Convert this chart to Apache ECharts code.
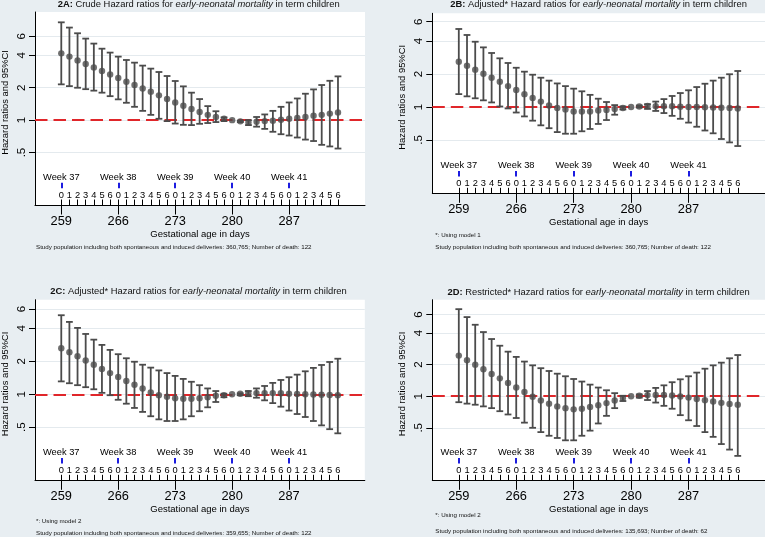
<!DOCTYPE html>
<html>
<head>
<meta charset="utf-8">
<script src="https://cdn.jsdelivr.net/npm/echarts@6/dist/echarts.min.js"></script>
<style>
html,body{margin:0;padding:0;background:#e8eef2;}
#chart{width:765px;height:537px;}
</style>
</head>
<body>
<div id="chart"></div>
<script>
// ---------- data ----------
const days = [259,260,261,262,263,264,265,266,267,268,269,270,271,272,273,274,275,276,277,278,279,280,281,282,283,284,285,286,287,288,289,290,291,292,293];
const dayDigits = ['0','1','2','3','4','5','6','0','1','2','3','4','5','6','0','1','2','3','4','5','6','0','1','2','3','4','5','6','0','1','2','3','4','5','6'];
const weekStarts = [259,266,273,280,287];
const weekNames = ['Week 37','Week 38','Week 39','Week 40','Week 41'];
const yTicks = [0.5,1,2,4,6];
const yTickLabels = ['.5','1','2','4','6'];

const hrA = [4.17,3.89,3.59,3.32,3.09,2.86,2.66,2.46,2.27,2.12,1.97,1.84,1.70,1.57,1.46,1.36,1.27,1.19,1.12,1.07,1.03,1.00,0.975,0.95,0.965,0.98,0.99,1.01,1.03,1.05,1.07,1.10,1.12,1.15,1.18];
const loA = [2.15,2.07,2.00,1.94,1.88,1.80,1.67,1.56,1.45,1.33,1.22,1.12,1.03,0.98,0.93,0.905,0.90,0.925,0.94,0.96,0.98,1.00,0.96,0.90,0.87,0.83,0.78,0.74,0.72,0.69,0.66,0.64,0.59,0.57,0.545];
const hiA = [8.1,7.24,6.41,5.72,5.14,4.61,4.24,3.89,3.62,3.42,3.21,3.01,2.80,2.57,2.31,2.06,1.80,1.57,1.35,1.21,1.06,1.00,0.99,1.00,1.07,1.13,1.22,1.33,1.46,1.59,1.76,1.93,2.12,2.32,2.55];

const hrB = [2.59,2.38,2.19,2.01,1.85,1.70,1.55,1.43,1.31,1.21,1.12,1.03,0.98,0.95,0.91,0.91,0.91,0.93,0.94,0.96,0.98,1.00,1.01,1.02,1.015,1.015,1.015,1.005,1.00,1.00,0.995,0.99,0.985,0.98,0.97];
const loB = [1.31,1.25,1.20,1.15,1.10,1.01,0.97,0.89,0.82,0.75,0.68,0.64,0.59,0.57,0.57,0.60,0.63,0.70,0.76,0.85,0.95,1.00,0.99,0.96,0.92,0.88,0.83,0.78,0.72,0.66,0.61,0.575,0.51,0.475,0.44];
const hiB = [5.15,4.54,3.94,3.50,3.11,2.78,2.52,2.28,2.10,1.97,1.85,1.74,1.64,1.55,1.47,1.39,1.29,1.19,1.11,1.04,1.01,1.00,1.03,1.06,1.12,1.18,1.26,1.34,1.42,1.52,1.63,1.74,1.85,1.99,2.13];

const hrC = [2.63,2.42,2.22,2.03,1.86,1.70,1.56,1.44,1.32,1.22,1.13,1.04,0.98,0.95,0.92,0.91,0.91,0.92,0.94,0.97,0.98,1.00,1.01,1.02,1.025,1.025,1.025,1.02,1.01,1.005,1.00,0.995,0.99,0.985,0.98];
const loC = [1.31,1.26,1.21,1.16,1.11,1.03,0.98,0.89,0.82,0.75,0.69,0.63,0.59,0.57,0.57,0.59,0.63,0.70,0.76,0.85,0.94,1.00,0.98,0.96,0.93,0.88,0.83,0.77,0.71,0.66,0.62,0.57,0.52,0.48,0.44];
const hiC = [5.26,4.57,4.03,3.55,3.15,2.82,2.54,2.32,2.13,1.98,1.86,1.75,1.65,1.56,1.47,1.38,1.30,1.21,1.13,1.07,1.01,1.00,1.02,1.07,1.13,1.19,1.27,1.35,1.43,1.51,1.62,1.74,1.85,1.97,2.11];

const hrD = [2.44,2.20,2.00,1.81,1.63,1.48,1.34,1.21,1.10,0.99,0.91,0.85,0.80,0.77,0.75,0.76,0.79,0.82,0.86,0.91,0.96,1.00,1.01,1.025,1.03,1.03,1.015,0.995,0.97,0.94,0.915,0.89,0.865,0.845,0.83];
const loD = [0.877,0.85,0.83,0.80,0.77,0.72,0.67,0.62,0.56,0.50,0.455,0.42,0.40,0.38,0.38,0.42,0.47,0.55,0.65,0.77,0.90,1.00,0.97,0.92,0.87,0.81,0.76,0.66,0.59,0.52,0.455,0.41,0.35,0.31,0.27];
const hiD = [6.76,5.68,4.80,4.09,3.51,3.03,2.66,2.37,2.14,1.97,1.85,1.74,1.64,1.55,1.46,1.38,1.29,1.21,1.14,1.07,1.01,1.00,1.04,1.12,1.20,1.27,1.36,1.45,1.55,1.68,1.83,1.97,2.09,2.30,2.47];

const titleLeads = ['2A:','2B:','2C:','2D:'];
const titleMains = ['Crude Hazard ratios for','Adjusted* Hazard ratios for','Adjusted* Hazard ratios for','Restricted* Hazard ratios for'];
const titleItalic = 'early-neonatal mortality';
const titleTail = 'in term children';
const notesA = ['Study population including both spontaneous and induced deliveries: 360,765; Number of death: 122'];
const notesB = ['*: Using model 1','Study population including both spontaneous and induced deliveries: 360,765; Number of death: 122'];
const notesC = ['*: Using model 2','Study population including both spontaneous and induced deliveries: 359,655; Number of death: 122'];
const notesD = ['*: Using model 2','Study population including both spontaneous and induced deliveries: 135,693; Number of death: 62'];
const xAxisTitle = 'Gestational age in days';
const yAxisTitle = 'Hazard ratios and 95%CI';

// ---------- layout ----------
const FONT = '"Liberation Sans", Arial, Helvetica, sans-serif';
const X_MIN = 255.77, X_MAX = 296.32;
const panels = [
  {hr:hrA, lo:loA, hi:hiA, notes:notesA, grid:{left:32.5, top:12, width:332.5, height:193}, yMin:0.163, yMax:10.1, titleX:198.7, titleY:4, noteX:36, noteY:[247]},
  {hr:hrB, lo:loB, hi:hiB, notes:notesB, grid:{left:432.3, top:13.3, width:332.8, height:180}, yMin:0.163, yMax:7.16, titleX:598.6, titleY:4, noteX:435.3, noteY:[235,247.3]},
  {hr:hrC, lo:loC, hi:hiC, notes:notesC, grid:{left:32.3, top:299.7, width:332.5, height:180.6}, yMin:0.164, yMax:7.29, titleX:198.5, titleY:291.5, noteX:36, noteY:[521.3,533.7]},
  {hr:hrD, lo:loD, hi:hiD, notes:notesD, grid:{left:432.3, top:299.7, width:332.8, height:180.6}, yMin:0.158, yMax:8.32, titleX:598.6, titleY:292, noteX:435.3, noteY:[515.3,531.3]}
];

const MARK = '#4b4b4b';
const grids = [], xAxes = [], yAxes = [], series = [], titles = [];

function yLabel(v){
  for (let k = 0; k < yTicks.length; k++) if (Math.abs(v - yTicks[k]) < 1e-6) return yTickLabels[k];
  return '';
}
function dayLabel(v){
  const k = days.indexOf(Math.round(v));
  return k >= 0 ? dayDigits[k] : '';
}
function weekLabel(v){
  const k = weekStarts.indexOf(Math.round(v));
  return k >= 0 ? weekNames[k] : '';
}

panels.forEach((p, g) => {
  grids.push(Object.assign({show:true, backgroundColor:'#ffffff', borderWidth:0, containLabel:false}, p.grid));
  // main x axis
  xAxes.push({
    type:'value', gridIndex:g, min:X_MIN, max:X_MAX, position:'bottom',
    axisLine:{show:true, onZero:false, lineStyle:{color:'#000', width:1}},
    axisTick:{show:true, customValues:weekStarts, length:9.5, lineStyle:{color:'#000', width:1}},
    axisLabel:{customValues:weekStarts, margin:9.5, fontSize:12.8, color:'#000', fontFamily:FONT},
    splitLine:{show:false},
    name:xAxisTitle, nameLocation:'middle', nameGap:24.5,
    nameTextStyle:{fontSize:9.5, color:'#000', fontFamily:FONT}
  });
  // day-of-week axis (inside)
  xAxes.push({
    type:'value', gridIndex:g, min:X_MIN, max:X_MAX, position:'bottom',
    axisLine:{show:false, onZero:false},
    axisTick:{show:true, inside:true, customValues:days, length:5.5, lineStyle:{color:'#000', width:1}},
    axisLabel:{inside:true, customValues:days, margin:5, fontSize:9.3, color:'#000', fontFamily:FONT, formatter:dayLabel},
    splitLine:{show:false}
  });
  // week axis (inside, raised)
  xAxes.push({
    type:'value', gridIndex:g, min:X_MIN, max:X_MAX, position:'bottom', offset:-16.7,
    axisLine:{show:false, onZero:false},
    axisTick:{show:true, inside:true, customValues:weekStarts, length:5.6, lineStyle:{color:'#1c1ce0', width:2}},
    axisLabel:{inside:true, customValues:weekStarts, margin:6.3, fontSize:9.3, color:'#000', fontFamily:FONT, formatter:weekLabel},
    splitLine:{show:false}
  });
  yAxes.push({
    type:'log', logBase:10, gridIndex:g, min:p.yMin, max:p.yMax,
    axisLine:{show:true, onZero:false, lineStyle:{color:'#000', width:1}},
    axisTick:{show:true, customValues:yTicks, length:6, lineStyle:{color:'#000', width:1}},
    axisLabel:{customValues:yTicks, rotate:90, margin:7.5, fontSize:11.5, color:'#000', fontFamily:FONT, formatter:yLabel},
    splitLine:{show:true, lineStyle:{color:'#e4eaee', width:1}},
    minorTick:{show:false}, minorSplitLine:{show:false},
    name:yAxisTitle, nameLocation:'middle', nameGap:25,
    nameTextStyle:{fontSize:9.4, color:'#000', fontFamily:FONT, padding:[0,0,0,12]}
  });
  const xi = g * 3;
  // reference line at HR = 1
  series.push({
    type:'line', xAxisIndex:xi, yAxisIndex:g, data:[], silent:true, z:1,
    markLine:{silent:true, symbol:'none', z:1, label:{show:false},
      lineStyle:{color:'#e0262a', width:2, type:[12.5,6]},
      data:[{yAxis:1}]}
  });
  // confidence intervals
  series.push({
    type:'custom', xAxisIndex:xi, yAxisIndex:g, z:3, silent:true,
    encode:{x:0, y:[1,2]},
    data: days.map((d, i) => [d, p.lo[i], p.hi[i]]),
    renderItem: function(params, api){
      const x = api.value(0), lo = api.value(1), hi = api.value(2);
      if (lo === hi) return {type:'group', children:[]};
      const a = api.coord([x, lo]), b = api.coord([x, hi]);
      const hw = 3.4;
      const st = {stroke:MARK, lineWidth:1.8, fill:null};
      return {type:'group', children:[
        {type:'line', shape:{x1:a[0], y1:a[1], x2:b[0], y2:b[1]}, style:st},
        {type:'line', shape:{x1:a[0]-hw, y1:a[1], x2:a[0]+hw, y2:a[1]}, style:st},
        {type:'line', shape:{x1:b[0]-hw, y1:b[1], x2:b[0]+hw, y2:b[1]}, style:st}
      ]};
    }
  });
  // point estimates
  series.push({
    type:'scatter', xAxisIndex:xi, yAxisIndex:g, z:4, silent:true,
    symbol:'circle', symbolSize:6.4, itemStyle:{color:MARK},
    data: days.map((d, i) => [d, p.hr[i]])
  });
  // titles
  titles.push({
    text:'{b|' + titleLeads[g] + '} ' + titleMains[g] + ' {i|' + titleItalic + '} ' + titleTail,
    left:p.titleX, top:p.titleY, textAlign:'center', textVerticalAlign:'middle', padding:0,
    textStyle:{fontSize:9.4, fontWeight:'normal', color:'#111', fontFamily:FONT,
      rich:{b:{fontSize:9.4, fontWeight:'bold', color:'#111', fontFamily:FONT},
            i:{fontSize:9.4, fontStyle:'italic', color:'#111', fontFamily:FONT}}}
  });
  p.notes.forEach((n, k) => {
    titles.push({
      text:n, left:p.noteX, top:p.noteY[k], textAlign:'left', textVerticalAlign:'middle', padding:0,
      textStyle:{fontSize:6.2, fontWeight:'normal', color:'#111', fontFamily:FONT}
    });
  });
});

const chart = echarts.init(document.getElementById('chart'), null, {renderer:'canvas'});
chart.setOption({
  backgroundColor:'#e8eef2',
  animation:false,
  title:titles,
  grid:grids,
  xAxis:xAxes,
  yAxis:yAxes,
  series:series
});
</script>
</body>
</html>
